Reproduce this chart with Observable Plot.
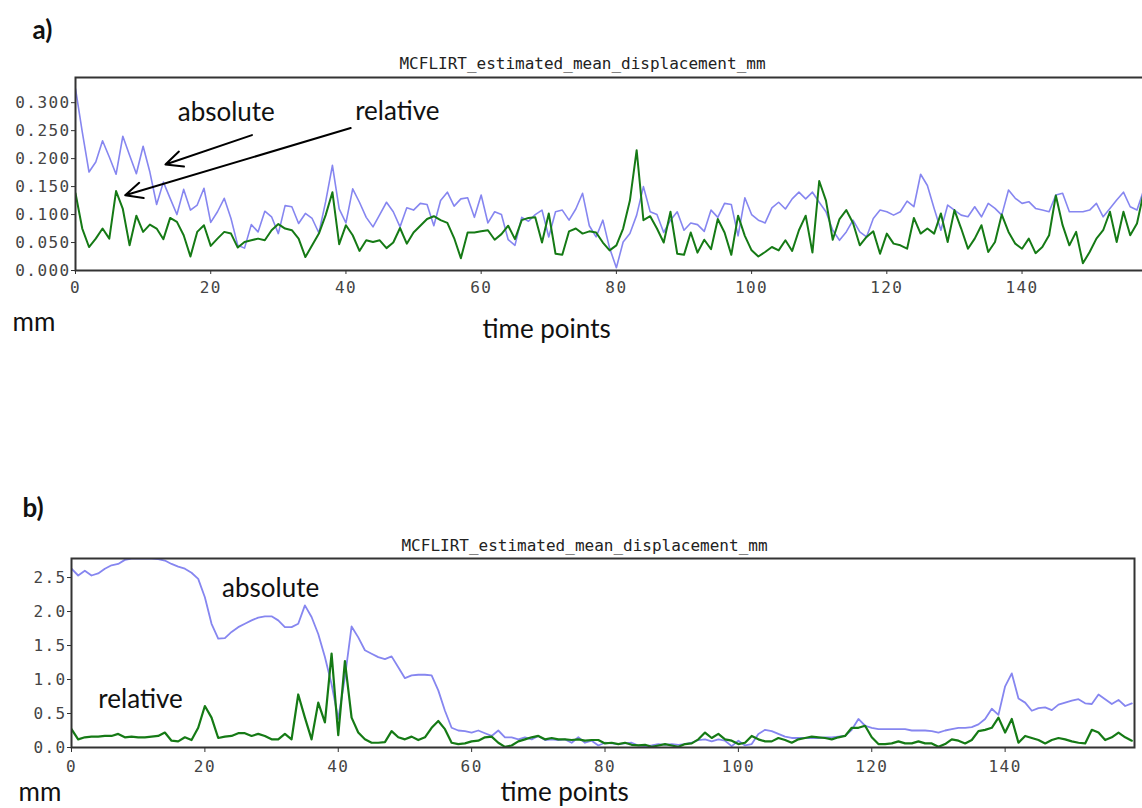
<!DOCTYPE html>
<html>
<head>
<meta charset="utf-8">
<script src="https://cdn.jsdelivr.net/npm/d3@7"></script>
<script src="https://cdn.jsdelivr.net/npm/@observablehq/plot@0.6"></script>
<style>
html, body { margin: 0; padding: 0; background: #fff; overflow: hidden; }
#wrap { position: relative; width: 1142px; height: 808px; overflow: hidden; background: #fff; }
#pa { position: absolute; left: 0; top: 0; }
#pb { position: absolute; left: 0; top: 480px; }
#pa svg, #pb svg { max-width: none !important; }
g[aria-label="y-axis tick label"] text, g[aria-label="x-axis tick label"] text { letter-spacing: 1.4px; }
g[aria-label="chart title"] text { letter-spacing: 0.9px; }
</style>
</head>
<body>
<div id="wrap"><div id="pa"></div><div id="pb"></div></div>
<script>
// ---------- data ----------
const timePoints = d3.range(160);

// panel a) absolute and relative mean displacement (mm)
const absA = [0.325,0.248,0.176,0.194,0.232,0.203,0.172,0.240,0.206,0.173,
 0.222,0.176,0.118,0.158,0.129,0.100,0.145,0.108,0.117,0.147,
 0.086,0.105,0.129,0.093,0.045,0.040,0.082,0.069,0.106,0.096,
 0.066,0.116,0.114,0.084,0.102,0.093,0.067,0.123,0.188,0.110,
 0.085,0.146,0.122,0.095,0.078,0.100,0.122,0.105,0.078,0.112,
 0.108,0.120,0.118,0.080,0.125,0.140,0.115,0.128,0.130,0.095,
 0.135,0.085,0.105,0.100,0.055,0.045,0.095,0.088,0.100,0.108,
 0.060,0.105,0.108,0.090,0.110,0.138,0.080,0.060,0.090,0.040,
 0.005,0.051,0.066,0.099,0.150,0.105,0.100,0.068,0.090,0.105,
 0.072,0.085,0.082,0.070,0.108,0.095,0.120,0.118,0.062,0.130,
 0.100,0.090,0.085,0.112,0.122,0.110,0.128,0.140,0.128,0.140,
 0.122,0.105,0.072,0.054,0.069,0.090,0.069,0.060,0.093,0.108,
 0.105,0.099,0.105,0.124,0.114,0.172,0.152,0.111,0.072,0.117,
 0.108,0.099,0.096,0.114,0.096,0.120,0.111,0.099,0.144,0.129,
 0.120,0.123,0.111,0.108,0.105,0.135,0.138,0.105,0.105,0.105,
 0.108,0.120,0.096,0.111,0.126,0.140,0.114,0.108,0.144,0.130];

const relA = [0.138,0.075,0.042,0.057,0.075,0.057,0.142,0.110,0.045,0.098,
 0.069,0.082,0.075,0.056,0.094,0.087,0.063,0.025,0.069,0.081,
 0.044,0.057,0.069,0.066,0.041,0.051,0.054,0.057,0.054,0.072,
 0.083,0.075,0.072,0.057,0.024,0.045,0.066,0.099,0.140,0.047,
 0.081,0.063,0.035,0.054,0.051,0.054,0.040,0.050,0.076,0.048,
 0.068,0.080,0.092,0.097,0.090,0.085,0.058,0.022,0.068,0.068,
 0.070,0.072,0.055,0.065,0.080,0.056,0.090,0.094,0.095,0.050,
 0.102,0.030,0.028,0.070,0.075,0.066,0.070,0.068,0.050,0.036,
 0.045,0.075,0.125,0.215,0.090,0.097,0.075,0.050,0.105,0.030,
 0.028,0.068,0.032,0.055,0.038,0.092,0.068,0.028,0.098,0.062,
 0.036,0.025,0.033,0.042,0.036,0.054,0.035,0.072,0.098,0.032,
 0.160,0.125,0.055,0.092,0.108,0.085,0.045,0.060,0.070,0.030,
 0.066,0.048,0.045,0.039,0.094,0.066,0.075,0.066,0.102,0.051,
 0.108,0.075,0.039,0.057,0.081,0.033,0.051,0.100,0.069,0.048,
 0.039,0.057,0.031,0.042,0.063,0.134,0.081,0.045,0.069,0.013,
 0.033,0.057,0.072,0.105,0.051,0.105,0.063,0.084,0.140,0.168];

// panel b)
const absB = [2.63,2.53,2.60,2.53,2.56,2.63,2.68,2.70,2.76,2.78,
 2.78,2.78,2.78,2.77,2.75,2.70,2.66,2.63,2.57,2.48,
 2.21,1.82,1.60,1.61,1.70,1.77,1.82,1.87,1.91,1.93,
 1.93,1.87,1.77,1.77,1.82,2.09,1.92,1.67,1.33,0.93,
 0.42,1.03,1.78,1.62,1.43,1.38,1.33,1.30,1.34,1.18,
 1.02,1.06,1.07,1.07,1.06,0.84,0.54,0.29,0.25,0.24,
 0.22,0.25,0.21,0.17,0.25,0.15,0.15,0.12,0.15,0.12,
 0.17,0.11,0.12,0.11,0.12,0.07,0.15,0.07,0.10,0.03,
 0.07,0.06,0.05,0.06,0.07,0.03,0.02,0.03,0.05,0.04,
 0.05,0.04,0.05,0.07,0.11,0.12,0.09,0.12,0.10,0.02,
 0.10,0.03,0.05,0.20,0.26,0.24,0.20,0.16,0.14,0.14,
 0.14,0.14,0.14,0.15,0.15,0.16,0.17,0.26,0.42,0.32,
 0.29,0.27,0.27,0.27,0.27,0.27,0.25,0.25,0.25,0.24,
 0.22,0.25,0.27,0.29,0.29,0.30,0.34,0.42,0.57,0.48,
 0.90,1.09,0.72,0.66,0.54,0.58,0.59,0.55,0.63,0.66,
 0.69,0.71,0.65,0.64,0.78,0.71,0.64,0.70,0.61,0.65];

const relB = [0.27,0.12,0.15,0.16,0.16,0.17,0.17,0.20,0.15,0.16,
 0.15,0.15,0.16,0.17,0.22,0.10,0.09,0.15,0.11,0.29,
 0.61,0.44,0.14,0.16,0.17,0.21,0.21,0.17,0.20,0.17,
 0.12,0.12,0.20,0.12,0.78,0.44,0.12,0.66,0.37,1.38,
 0.18,1.27,0.44,0.22,0.12,0.07,0.07,0.08,0.24,0.15,
 0.12,0.16,0.11,0.15,0.29,0.39,0.27,0.07,0.05,0.06,
 0.09,0.10,0.15,0.16,0.07,0.01,0.03,0.09,0.12,0.15,
 0.17,0.12,0.14,0.12,0.12,0.11,0.12,0.10,0.11,0.11,
 0.06,0.07,0.05,0.07,0.04,0.03,0.04,0.01,0.03,0.05,
 0.03,0.01,0.05,0.06,0.12,0.22,0.14,0.20,0.12,0.10,
 0.05,0.07,0.17,0.12,0.09,0.09,0.14,0.11,0.07,0.12,
 0.14,0.16,0.15,0.14,0.12,0.15,0.17,0.29,0.29,0.32,
 0.15,0.05,0.05,0.06,0.09,0.06,0.06,0.09,0.06,0.06,
 0.01,0.05,0.12,0.10,0.06,0.11,0.24,0.26,0.29,0.44,
 0.22,0.42,0.07,0.17,0.14,0.11,0.06,0.11,0.14,0.12,
 0.09,0.07,0.06,0.26,0.22,0.11,0.15,0.22,0.15,0.10];

// tick values
const xTicks = [0, 20, 40, 60, 80, 100, 120, 140];
const yTicksA = [0, 0.05, 0.10, 0.15, 0.20, 0.25, 0.30];
const yTicksB = [0, 0.5, 1.0, 1.5, 2.0, 2.5];

// texts
const chartTitle = "MCFLIRT_estimated_mean_displacement_mm";
const xLabel = "time points";
const yUnit = "mm";

// annotations (data coordinates)
const labelsA = [
  {t: 22.3, v: 0.267, text: "absolute"},
  {t: 47.6, v: 0.269, text: "relative"}
];
const arrowsA = [
  {t1: 26.1, v1: 0.242, t2: 13.3, v2: 0.1895},
  {t1: 40.7, v1: 0.2546, t2: 7.35, v2: 0.1345}
];
const labelsB = [
  {t: 29.85, v: 2.22, text: "absolute"},
  {t: 10.35, v: 0.585, text: "relative"}
];

// ---------- tables ----------
const rowsA = timePoints.map((t, i) => ({t, abs: absA[i], rel: relA[i]}));
const rowsB = timePoints.map((t, i) => ({t, abs: absB[i], rel: relB[i]}));

const MONO = "'DejaVu Sans Mono', monospace";
const SANS = "Lato, 'Open Sans', sans-serif";
const BLUE = "#8686f0";
const GREEN = "#157a15";
const FRAME = "#333";

function textAt(str, opts) {
  return Plot.text([str], {text: d => d, lineAnchor: "bottom", fill: "#111", ...opts});
}

// ---------- panel a ----------
const mlA = 75, mtA = 77;
const plotA = Plot.plot({
  width: 1152, height: 350,
  marginLeft: mlA, marginRight: 2, marginTop: mtA, marginBottom: 80,
  style: {fontFamily: MONO, fontSize: "16px", background: "transparent", overflow: "visible", maxWidth: "none"},
  x: {domain: [0, 159]},
  y: {domain: [0, 0.345]},
  marks: [
    Plot.line(rowsA, {x: "t", y: "abs", stroke: BLUE, strokeWidth: 1.6, clip: true}),
    Plot.line(rowsA, {x: "t", y: "rel", stroke: GREEN, strokeWidth: 2, clip: true}),
    Plot.frame({stroke: FRAME, strokeWidth: 2}),
    Plot.axisY({ticks: yTicksA, tickFormat: d3.format(".3f"), tickSize: 4, tickPadding: 1, label: null, fill: "#444", stroke: FRAME}),
    Plot.axisX({ticks: xTicks, tickFormat: d3.format("d"), tickSize: 4, tickPadding: 7, label: null, fill: "#444", stroke: FRAME}),
    Plot.arrow(arrowsA, {x1: "t1", y1: "v1", x2: "t2", y2: "v2", stroke: "#000", strokeWidth: 2, headLength: 14, headAngle: 50}),
    Plot.text(labelsA, {x: "t", y: "v", text: "text", fontFamily: SANS, fontSize: 26, lineAnchor: "bottom", fill: "#111"}),
    textAt("a)", {frameAnchor: "top-left", dx: 32 - mlA, dy: 38 - mtA, textAnchor: "start", fontFamily: SANS, fontSize: 26, fontWeight: "bold"}),
    textAt(chartTitle, {frameAnchor: "top-left", dx: 582 - mlA, dy: 68 - mtA, textAnchor: "middle", fontFamily: MONO, fontSize: 16, fill: "#222", ariaLabel: "chart title"}),
    textAt(yUnit, {frameAnchor: "bottom-left", dx: 12 - mlA, dy: 60, textAnchor: "start", fontFamily: SANS, fontSize: 26}),
    textAt(xLabel, {frameAnchor: "bottom-left", dx: 482 - mlA, dy: 67, textAnchor: "start", fontFamily: SANS, fontSize: 26})
  ]
});
document.getElementById("pa").appendChild(plotA);

// ---------- panel b ----------
const mlB = 71, mtB = 78;
const plotB = Plot.plot({
  width: 1142, height: 328,
  marginLeft: mlB, marginRight: 8, marginTop: mtB, marginBottom: 61,
  style: {fontFamily: MONO, fontSize: "16px", background: "transparent", overflow: "visible", maxWidth: "none"},
  x: {domain: [0, 159.4]},
  y: {domain: [0, 2.78]},
  marks: [
    Plot.line(rowsB, {x: "t", y: "abs", stroke: BLUE, strokeWidth: 1.8, clip: true}),
    Plot.line(rowsB, {x: "t", y: "rel", stroke: GREEN, strokeWidth: 2.2, clip: true}),
    Plot.frame({stroke: FRAME, strokeWidth: 2}),
    Plot.axisY({ticks: yTicksB, tickFormat: d3.format(".1f"), tickSize: 4, tickPadding: 1, label: null, fill: "#444", stroke: FRAME}),
    Plot.axisX({ticks: xTicks, tickFormat: d3.format("d"), tickSize: 5, tickPadding: 8, label: null, fill: "#444", stroke: FRAME}),
    Plot.text(labelsB, {x: "t", y: "v", text: "text", fontFamily: SANS, fontSize: 26, lineAnchor: "bottom", fill: "#111"}),
    textAt("b)", {frameAnchor: "top-left", dx: 22 - mlB, dy: 516 - 480 - mtB, textAnchor: "start", fontFamily: SANS, fontSize: 26, fontWeight: "bold"}),
    textAt(chartTitle, {frameAnchor: "top-left", dx: 584 - mlB, dy: 550 - 480 - mtB, textAnchor: "middle", fontFamily: MONO, fontSize: 16, fill: "#222", ariaLabel: "chart title"}),
    textAt(yUnit, {frameAnchor: "bottom-left", dx: 18 - mlB, dy: 53, textAnchor: "start", fontFamily: SANS, fontSize: 26}),
    textAt(xLabel, {frameAnchor: "bottom-left", dx: 500 - mlB, dy: 53, textAnchor: "start", fontFamily: SANS, fontSize: 26})
  ]
});
document.getElementById("pb").appendChild(plotB);
</script>
</body>
</html>
